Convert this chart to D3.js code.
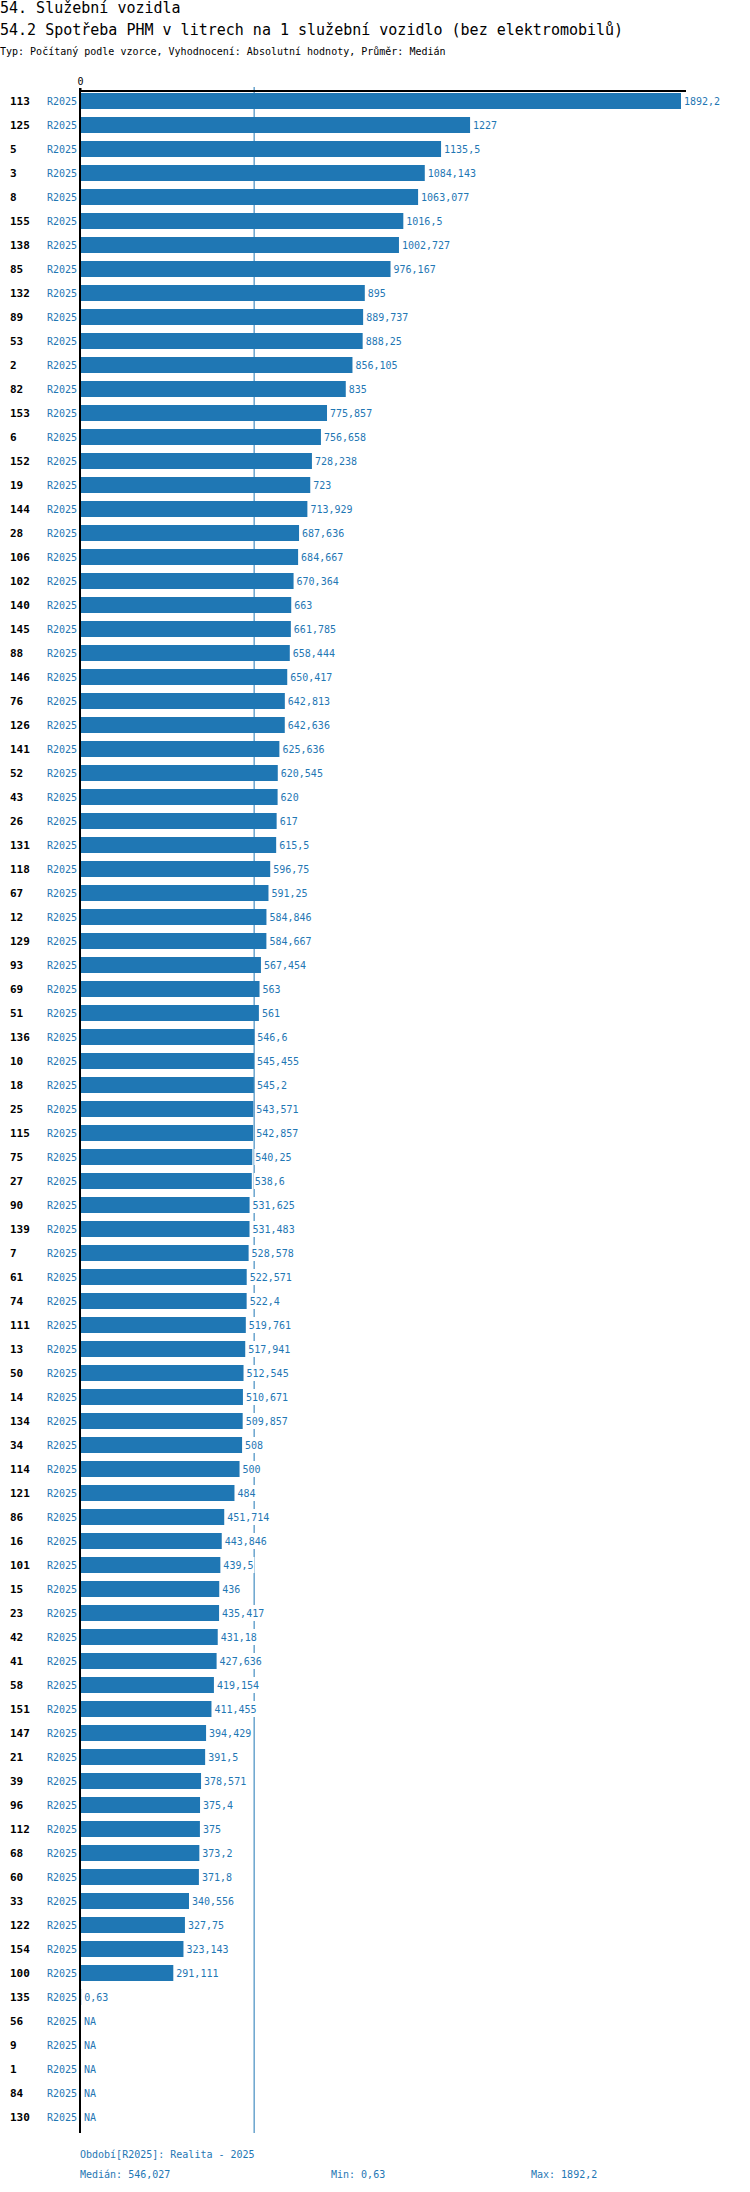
<!DOCTYPE html>
<html>
<head>
<meta charset="utf-8">
<title>54.2 Spotřeba PHM</title>
<script src="https://cdn.jsdelivr.net/npm/d3@7"></script>
<style>
  body { margin: 0; background: #fff; }
  text { font-family: "DejaVu Sans Mono", monospace; }
</style>
</head>
<body>
<svg id="chart" width="750" height="2192"></svg>
<script>
// kategorie (ID organizace) a hodnoty, poradi jako v grafu
var categories = ["113","125","5","3","8","155","138","85","132","89","53","2","82","153","6","152","19","144",
  "28","106","102","140","145","88","146","76","126","141","52","43","26","131","118","67","12","129","93",
  "69","51","136","10","18","25","115","75","27","90","139","7","61","74","111","13","50","14","134","34",
  "114","121","86","16","101","15","23","42","41","58","151","147","21","39","96","112","68","60","33",
  "122","154","100","135","56","9","1","84","130"];

var values = [1892.2,1227,1135.5,1084.143,1063.077,1016.5,1002.727,976.167,895,889.737,888.25,856.105,835,
  775.857,756.658,728.238,723,713.929,687.636,684.667,670.364,663,661.785,658.444,650.417,642.813,642.636,
  625.636,620.545,620,617,615.5,596.75,591.25,584.846,584.667,567.454,563,561,546.6,545.455,545.2,543.571,
  542.857,540.25,538.6,531.625,531.483,528.578,522.571,522.4,519.761,517.941,512.545,510.671,509.857,508,
  500,484,451.714,443.846,439.5,436,435.417,431.18,427.636,419.154,411.455,394.429,391.5,378.571,375.4,
  375,373.2,371.8,340.556,327.75,323.143,291.111,0.63,null,null,null,null,null];

var period = "R2025";
var median = 546.027, minVal = 0.63, maxVal = 1892.2;

var blue = "#1f77b4";
var fmt = function(v) {
  if (v == null) return "NA";
  return String(+v.toFixed(3)).replace(".", ",");
};

var svg = d3.select("#chart");

// nadpisy
svg.append("text").attr("x", 0).attr("y", 13).style("font-size", "15px")
   .text("54. Služební vozidla");
svg.append("text").attr("x", 0).attr("y", 35).style("font-size", "15px")
   .text("54.2 Spotřeba PHM v litrech na 1 služební vozidlo (bez elektromobilů)");
svg.append("text").attr("x", 0).attr("y", 55).style("font-size", "10px")
   .text("Typ: Počítaný podle vzorce, Vyhodnocení: Absolutní hodnoty, Průměr: Medián");

var x = d3.scaleLinear().domain([0, maxVal]).range([81, 681]);
var y = d3.scaleBand().domain(categories).range([89, 89 + categories.length * 24])
          .paddingInner(1/3).paddingOuter(1/6);

var axisBottom = 2133;

// median - za sloupci
svg.append("line")
   .attr("x1", x(median)).attr("x2", x(median))
   .attr("y1", 87).attr("y2", axisBottom)
   .attr("stroke", blue).attr("stroke-width", 1);

var rows = svg.append("g").selectAll("g")
  .data(categories.map(function(c, i) { return {cat: c, v: values[i]}; }))
  .enter().append("g");

rows.append("rect")
    .attr("x", x(0))
    .attr("y", function(d) { return y(d.cat); })
    .attr("height", y.bandwidth())
    .attr("width", function(d) { return d.v == null ? 0 : x(d.v) - x(0); })
    .attr("fill", blue);

rows.append("text")
    .attr("x", 10)
    .attr("y", function(d) { return y(d.cat) + y.bandwidth() / 2; })
    .attr("dy", "0.35em")
    .style("font-size", "11px").style("font-weight", "bold")
    .text(function(d) { return d.cat; });

rows.append("text")
    .attr("x", 77)
    .attr("y", function(d) { return y(d.cat) + y.bandwidth() / 2; })
    .attr("dy", "0.35em")
    .attr("text-anchor", "end")
    .style("font-size", "10px").attr("fill", blue)
    .text(period);

// popisky hodnot s bilym podkladem (prerusuji median)
var bg = rows.append("rect").attr("fill", "#fff");
var lbl = rows.append("text")
    .attr("x", function(d) { return (d.v == null ? x(0) : x(d.v)) + 3; })
    .attr("y", function(d) { return y(d.cat) + y.bandwidth() / 2; })
    .attr("dy", "0.35em")
    .style("font-size", "10px").attr("fill", blue)
    .text(function(d) { return fmt(d.v); });

lbl.each(function(d, i) {
  var b = this.getBBox();
  d3.select(bg.nodes()[i])
    .attr("x", b.x - 1).attr("width", b.width + 2)
    .attr("y", y(d.cat)).attr("height", y.bandwidth());
});

// osy
var xAxis = svg.append("g")
   .attr("transform", "translate(0,91)")
   .call(d3.axisTop(x).tickValues([0]).tickSize(3).tickFormat(d3.format("d")));
xAxis.select(".domain").remove();
xAxis.selectAll(".tick line").attr("stroke", "#000").attr("transform", "translate(-1,0)").attr("stroke-width", 2);
xAxis.selectAll(".tick text").style("font-size", "10px").style("font-family", "DejaVu Sans Mono").attr("dx", "-1");

svg.append("line")
   .attr("x1", x(0) - 2).attr("x2", x.range()[1] + 5)
   .attr("y1", 91).attr("y2", 91)
   .attr("stroke", "#000").attr("stroke-width", 2);
svg.append("line")
   .attr("x1", x(0) - 1).attr("x2", x(0) - 1)
   .attr("y1", 88).attr("y2", axisBottom)
   .attr("stroke", "#000").attr("stroke-width", 2);

// legenda a statistiky
var foot = svg.append("g").style("font-size", "10px").attr("fill", blue);
foot.append("text").attr("x", 80).attr("y", 2158).text("Období[" + period + "]: Realita - 2025");
foot.append("text").attr("x", 80).attr("y", 2178).text("Medián: " + fmt(median));
foot.append("text").attr("x", 331).attr("y", 2178).text("Min: " + fmt(minVal));
foot.append("text").attr("x", 531).attr("y", 2178).text("Max: " + fmt(maxVal));
</script>
</body>
</html>
